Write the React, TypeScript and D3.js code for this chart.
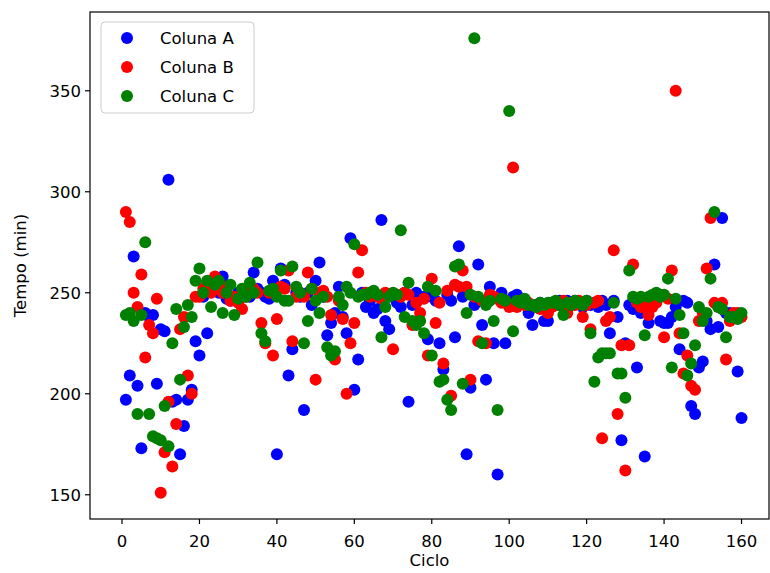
import React from "react";
import * as d3 from "d3";

const cycles: number[] = Array.from({ length: 160 }, (_, i) => i + 1);

const colunaA: number[] = [
  197, 209, 268, 204, 173, 240, 238, 239, 205, 232, 231, 306, 196, 197, 170, 184, 197, 202, 226, 219,
  248, 230, 252, 255, 250, 258, 247, 246, 248, 250, 249, 252, 248, 260, 252, 250, 248, 247, 256, 170,
  262, 254, 209, 222, 250, 248, 192, 250, 244, 256, 265, 248, 229, 235, 240, 253, 238, 230, 277, 202,
  217, 250, 243, 246, 240, 242, 286, 236, 232, 248, 245, 243, 250, 196, 244, 250, 247, 248, 227, 248,
  246, 225, 212, 249, 246, 228, 273, 248, 170, 203, 244, 264, 234, 207, 253, 225, 160, 250, 225, 246,
  248, 249, 246, 245, 240, 234, 244, 245, 236, 236, 245, 244, 246, 245, 246, 244, 246, 245, 243, 246,
  244, 245, 243, 246, 244, 230, 246, 238, 177, 225, 244, 242, 213, 240, 169, 235, 244, 248, 236, 235,
  235, 238, 243, 222, 246, 245, 194, 190, 213, 216, 236, 232, 264, 233, 287, 240, 240, 239, 211, 188,
];

const colunaB: number[] = [
  290, 285, 250, 243, 259, 218, 234, 230, 247, 151, 171, 196, 164, 185, 232, 238, 209, 200, 248, 248,
  252, 255, 250, 258, 252, 250, 253, 246, 248, 245, 242, 248, 250, 252, 250, 235, 225, 250, 219, 237,
  253, 252, 261, 226, 248, 250, 248, 260, 252, 207, 250, 251, 248, 239, 217, 246, 237, 200, 225, 235,
  260, 271, 250, 248, 250, 248, 247, 250, 249, 222, 249, 248, 250, 249, 234, 245, 240, 247, 219, 257,
  235, 245, 215, 251, 199, 254, 253, 261, 253, 207, 248, 226, 246, 225, 249, 248, 247, 245, 246, 243,
  312, 243, 246, 244, 245, 244, 243, 242, 244, 240, 243, 245, 244, 246, 240, 245, 244, 246, 238, 244,
  232, 245, 246, 178, 236, 238, 271, 190, 224, 162, 224, 264, 245, 243, 243, 239, 243, 245, 249, 228,
  247, 261, 350, 230, 210, 219, 204, 202, 236, 240, 262, 287, 245, 243, 245, 217, 236, 240, 240, 238,
];

const colunaC: number[] = [
  239, 240, 236, 190, 239, 275, 190, 179, 178, 177, 194, 174, 225, 242, 207, 233, 244, 238, 256, 262,
  250, 256, 243, 254, 256, 240, 250, 254, 239, 247, 252, 248, 255, 250, 265, 230, 226, 251, 252, 248,
  261, 246, 246, 263, 253, 250, 225, 236, 252, 246, 240, 248, 223, 219, 221, 248, 244, 253, 250, 274,
  248, 249, 249, 250, 251, 249, 228, 243, 248, 250, 249, 281, 238, 255, 236, 234, 236, 230, 253, 219,
  251, 206, 207, 197, 192, 263, 264, 205, 240, 249, 376, 248, 225, 244, 246, 236, 192, 247, 246, 340,
  231, 246, 245, 247, 244, 244, 243, 245, 244, 245, 245, 246, 244, 239, 245, 244, 246, 245, 244, 246,
  230, 206, 218, 220, 220, 220, 245, 210, 210, 198, 261, 248, 247, 248, 229, 248, 249, 250, 248, 249,
  257, 213, 247, 239, 230, 209, 215, 224, 243, 236, 240, 257, 290, 243, 242, 228, 238, 238, 237, 240,
];

const xTicks: number[] = [0, 20, 40, 60, 80, 100, 120, 140, 160];
const yTicks: number[] = [150, 200, 250, 300, 350];

const seriesNames: string[] = ["Coluna A", "Coluna B", "Coluna C"];
const seriesColors: string[] = ["#0000ff", "#ff0000", "#008000"];

export default function App() {
  const W = 770;
  const H = 573;
  const left = 90;
  const right = 769;
  const top = 12;
  const bottom = 519;
  const font = "'DejaVu Sans', sans-serif";
  const fs = 16.5;

  const x = d3.scaleLinear().domain([-8.27, 167.1]).range([left, right]);
  const y = d3.scaleLinear().domain([138, 389]).range([bottom, top]);

  const series = [colunaA, colunaB, colunaC];

  return (
    <svg width={W} height={H} style={{ position: "absolute", left: 0, top: 0, background: "#fff" }}>
      <rect x={0} y={0} width={W} height={H} fill="#fff" />
      {series.map((vals, si) => (
        <g key={si} fill={seriesColors[si]}>
          {vals.map((v, i) => (
            <circle key={i} cx={x(cycles[i])} cy={y(v)} r={6} />
          ))}
        </g>
      ))}
      <rect x={left} y={top} width={right - left} height={bottom - top} fill="none" stroke="#000" strokeWidth={1.2} />
      {xTicks.map((t) => (
        <g key={t}>
          <line x1={x(t)} x2={x(t)} y1={bottom} y2={bottom + 5} stroke="#000" strokeWidth={1.2} />
          <text x={x(t)} y={bottom + 28} textAnchor="middle" fontFamily={font} fontSize={fs} fill="#000">
            {t}
          </text>
        </g>
      ))}
      {yTicks.map((t) => (
        <g key={t}>
          <line x1={left - 5} x2={left} y1={y(t)} y2={y(t)} stroke="#000" strokeWidth={1.2} />
          <text x={left - 9} y={y(t) + 6} textAnchor="end" fontFamily={font} fontSize={fs} fill="#000">
            {t}
          </text>
        </g>
      ))}
      <text x={(left + right) / 2} y={566} textAnchor="middle" fontFamily={font} fontSize={fs} fill="#000">
        Ciclo
      </text>
      <text
        transform={`translate(26, ${(top + bottom) / 2}) rotate(-90)`}
        textAnchor="middle"
        fontFamily={font}
        fontSize={fs}
        fill="#000"
      >
        Tempo (min)
      </text>
      <g>
        <rect x={101} y={22} width={153} height={91} rx={4} fill="#fff" fillOpacity={0.8} stroke="#ccc" strokeWidth={1} />
        {seriesNames.map((n, i) => (
          <g key={n}>
            <circle cx={127} cy={38 + i * 29} r={6} fill={seriesColors[i]} />
            <text x={160} y={38 + i * 29 + 6} fontFamily={font} fontSize={fs} fill="#000">
              {n}
            </text>
          </g>
        ))}
      </g>
    </svg>
  );
}
